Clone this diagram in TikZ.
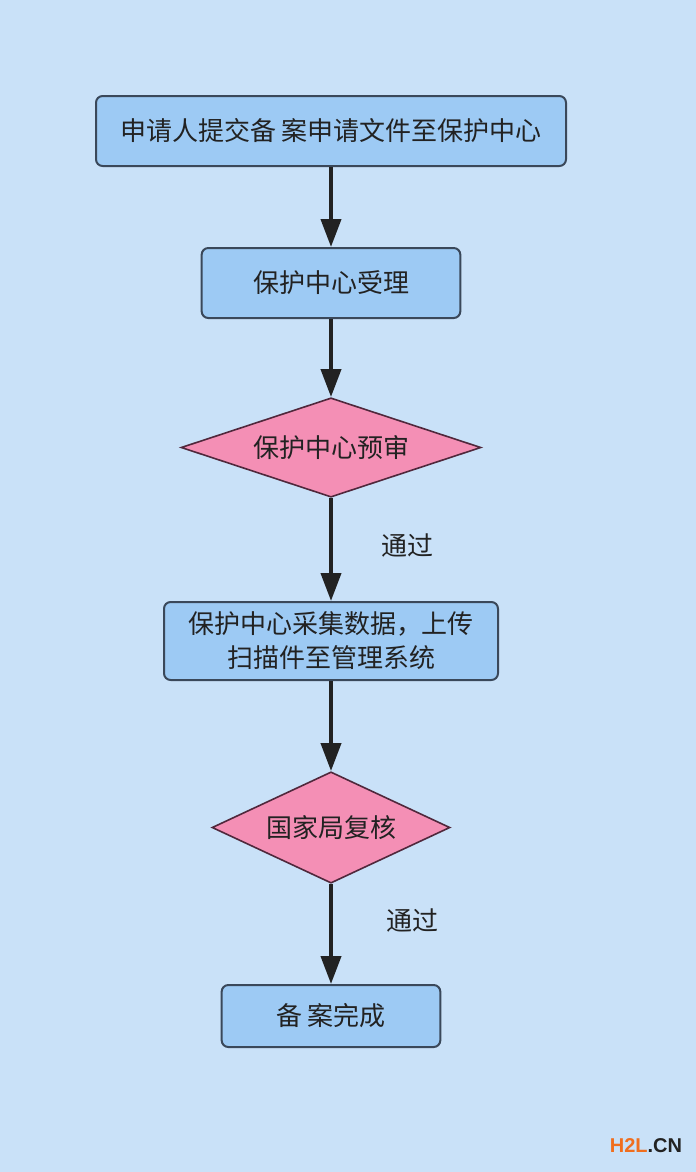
\documentclass[tikz,border=0pt]{standalone}
\usepackage{fontspec}
\newfontfamily\cjk{Noto Sans CJK SC}
\newfontfamily\wmfont{Liberation Sans}
\usetikzlibrary{arrows.meta}
\usetikzlibrary{shapes.geometric}

\definecolor{bgblue}{RGB}{201,225,248}
\definecolor{boxblue}{RGB}{157,202,244}
\definecolor{boxline}{RGB}{58,72,90}
\definecolor{diapink}{RGB}{244,143,181}
\definecolor{dialine}{RGB}{80,40,60}
\definecolor{inkdark}{RGB}{34,34,34}
\definecolor{wmorange}{RGB}{240,110,30}

\tikzset{
  stepbox/.style={draw=boxline,line width=1.5pt,fill=boxblue,rounded corners=5pt,
    inner sep=0pt,align=center,text=inkdark,font=\cjk\fontsize{19.5}{25.5}\selectfont},
  checkbox/.style={diamond,draw=dialine,line width=1.2pt,fill=diapink,inner sep=0pt,
    text=inkdark,font=\cjk\fontsize{19.5}{25.5}\selectfont},
  flowarrow/.style={draw=inkdark,line width=3pt,-{Triangle[width=15pt,length=21pt]}},
  passlabel/.style={text=inkdark,font=\cjk\fontsize{19.5}{25.5}\selectfont}
}

\begin{document}
\begin{tikzpicture}[x=0.75pt,y=0.75pt,yscale=-1,xscale=1]
%set diagram left start at 0, and has height of 1172
\fill [bgblue] (0,0) rectangle (696,1172);
\useasboundingbox (0,0) rectangle (696,1172);

%Shape: Rectangle [id:submit]
\node [stepbox,minimum width=352.5pt,minimum height=52.5pt] (submit) at (331,131) {申请人提交备 案申请文件至保护中心};
%Shape: Rectangle [id:accept]
\node [stepbox,minimum width=194pt,minimum height=52.5pt] (accept) at (331,283) {保护中心受理};
%Shape: Diamond [id:precheck]
\node [checkbox,aspect=3.03,minimum width=225pt,minimum height=74.5pt] (precheck) at (331,447.5) {保护中心预审};
%Shape: Rectangle [id:collect]
\node [stepbox,minimum width=250.5pt,minimum height=58.5pt] (collect) at (331,641) {保护中心采集数据，上传\\扫描件至管理系统};
%Shape: Diamond [id:review]
\node [checkbox,aspect=2.14,minimum width=178.5pt,minimum height=83.5pt] (review) at (331,827.5) {国家局复核};
%Shape: Rectangle [id:done]
\node [stepbox,minimum width=164pt,minimum height=46.5pt] (done) at (331,1016) {备 案完成};

%Straight Lines with arrows
\draw [flowarrow] (submit) -- (accept);
\draw [flowarrow] (accept) -- (precheck);
\draw [flowarrow] (precheck) -- (collect);
\draw [flowarrow] (collect) -- (review);
\draw [flowarrow] (review) -- (done);

% Text Node
\node [passlabel] (pass1) at (407,546) {通过};
% Text Node
\node [passlabel] (pass2) at (412,921) {通过};
% Text Node
\node [font=\wmfont\bfseries\fontsize{15}{15}\selectfont,inner sep=0pt] (mark) at (646,1146) {\textcolor{wmorange}{H2L}\textcolor{inkdark}{.CN}};

\end{tikzpicture}
\end{document}
